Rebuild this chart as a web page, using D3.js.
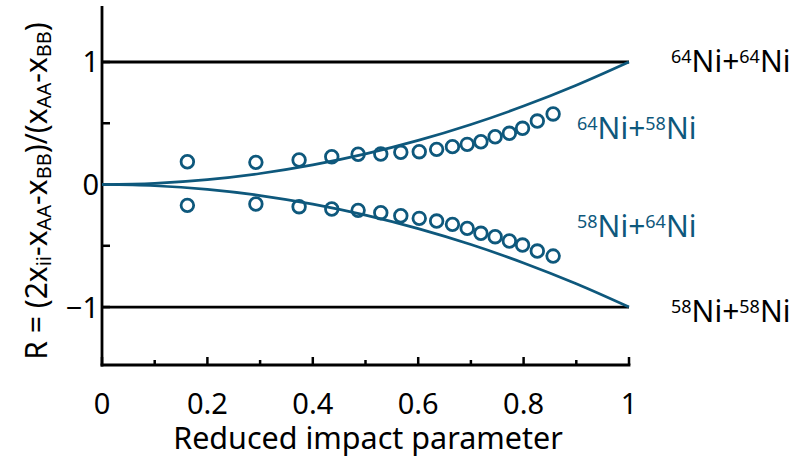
<!DOCTYPE html>
<html>
<head>
<meta charset="utf-8">
<script src="https://cdn.jsdelivr.net/npm/d3@7"></script>
<style>
  body { margin: 0; background: #fff; }
  text { font-family: "Noto Sans", "Open Sans", sans-serif; }
</style>
</head>
<body>
<div class="chart"></div>
<script>
var width = 798
var height = 459
var teal = "#0e587c"

// theory curves
const curveX = [0, 0.1, 0.2, 0.3, 0.4, 0.5, 0.6, 0.7, 0.8, 0.9, 1]
const upperCurve = [0, 0.01, 0.04, 0.09, 0.16, 0.25, 0.36, 0.49, 0.64, 0.81, 1]
const lowerCurve = [0, -0.01, -0.04, -0.09, -0.16, -0.25, -0.36, -0.49, -0.64, -0.81, -1]

// measured points
const pointX = [0.162, 0.292, 0.374, 0.436, 0.486, 0.529, 0.567, 0.602, 0.635, 0.665,
                0.693, 0.719, 0.746, 0.773, 0.798, 0.826, 0.856]
const upperR = [0.186, 0.181, 0.200, 0.227, 0.247, 0.249, 0.263, 0.268, 0.287, 0.309,
                0.328, 0.349, 0.390, 0.418, 0.459, 0.518, 0.576]
const lowerR = [-0.170, -0.159, -0.181, -0.200, -0.211, -0.230, -0.255, -0.276, -0.298, -0.325,
                -0.358, -0.398, -0.426, -0.461, -0.494, -0.543, -0.584]

// limit lines y = 1 and y = -1
const limitY = [1, -1]

const xTickLabels = [0, 0.2, 0.4, 0.6, 0.8, 1]
const xMinorTicks = [0.1, 0.3, 0.5, 0.7, 0.9]
const yTickLabels = [1, 0, -1]
const yMinorTicks = [0.5, -0.5]

const labels = [
  {a: "64", b: "64", y: 1, color: "#000", x: 671, dy: 10},
  {a: "64", b: "58", y: 0.45, color: teal, x: 577, dy: 10},
  {a: "58", b: "64", y: -0.35, color: teal, x: 577, dy: 10},
  {a: "58", b: "58", y: -1, color: "#000", x: 671, dy: 15}
]

var x = d3.scaleLinear().domain([0, 1]).range([102, 629])
var y = d3.scaleLinear().domain([-1.473, 1.457]).range([365, 6])

var svg = d3.select(".chart")
  .append("svg")
  .attr("width", width)
  .attr("height", height)

// spines
svg.append("line")
  .attr("x1", x(0)).attr("x2", x(0))
  .attr("y1", y.range()[1]).attr("y2", y.range()[0] + 1.4)
  .attr("stroke", "#000").attr("stroke-width", 2.8)
svg.append("line")
  .attr("x1", x(0) - 1.4).attr("x2", x(1) + 1.4)
  .attr("y1", y.range()[0]).attr("y2", y.range()[0])
  .attr("stroke", "#000").attr("stroke-width", 2.8)

// x ticks, inward
svg.selectAll(".xmaj")
  .data(xTickLabels)
  .enter()
  .append("line")
  .attr("x1", d => x(d)).attr("x2", d => x(d))
  .attr("y1", y.range()[0]).attr("y2", y.range()[0] - 8)
  .attr("stroke", "#000").attr("stroke-width", 2.5)
svg.selectAll(".xmin")
  .data(xMinorTicks)
  .enter()
  .append("line")
  .attr("x1", d => x(d)).attr("x2", d => x(d))
  .attr("y1", y.range()[0]).attr("y2", y.range()[0] - 5)
  .attr("stroke", "#000").attr("stroke-width", 2.5)
svg.selectAll(".xlab")
  .data(xTickLabels)
  .enter()
  .append("text")
  .attr("x", d => x(d))
  .attr("y", 414)
  .attr("text-anchor", "middle")
  .attr("font-size", 29)
  .text(d => d)

// y ticks
svg.selectAll(".ymin")
  .data(yMinorTicks.concat(yTickLabels))
  .enter()
  .append("line")
  .attr("x1", x(0)).attr("x2", x(0) + 8)
  .attr("y1", d => y(d)).attr("y2", d => y(d))
  .attr("stroke", "#000").attr("stroke-width", 2.5)
svg.selectAll(".ylab")
  .data(yTickLabels)
  .enter()
  .append("text")
  .attr("x", 99)
  .attr("y", d => y(d) + 10.5)
  .attr("text-anchor", "end")
  .attr("font-size", 29)
  .text(d => d < 0 ? "\u2212" + Math.abs(d) : d)

// limit lines
svg.selectAll(".limit")
  .data(limitY)
  .enter()
  .append("line")
  .attr("x1", x(0)).attr("x2", x(1))
  .attr("y1", d => y(d)).attr("y2", d => y(d))
  .attr("stroke", "#000").attr("stroke-width", 2.8)

// curves
var line = d3.line()
  .x((d, i) => x(curveX[i]))
  .y(d => y(d))
  .curve(d3.curveMonotoneX)
;[upperCurve, lowerCurve].forEach(function(c){
  svg.append("path")
    .attr("d", line(c))
    .attr("fill", "none")
    .attr("stroke", teal)
    .attr("stroke-width", 2.7)
})

// points
;[upperR, lowerR].forEach(function(s){
  svg.append("g").selectAll("circle")
    .data(s)
    .enter()
    .append("circle")
    .attr("cx", (d, i) => x(pointX[i]))
    .attr("cy", d => y(d))
    .attr("r", 6.3)
    .attr("fill", "none")
    .attr("stroke", teal)
    .attr("stroke-width", 2.8)
})

// reaction labels
labels.forEach(function(l){
  var t = svg.append("text")
    .attr("x", l.x)
    .attr("y", y(l.y) + l.dy)
    .attr("font-size", 30)
    .attr("fill", l.color)
  t.append("tspan").attr("font-size", 18).attr("dy", -9).text(l.a)
  t.append("tspan").attr("dy", 9).text("Ni+")
  t.append("tspan").attr("font-size", 18).attr("dy", -9).text(l.b)
  t.append("tspan").attr("dy", 9).text("Ni")
})

// axis titles
svg.append("text")
  .attr("x", 368)
  .attr("y", 449)
  .attr("text-anchor", "middle")
  .attr("font-size", 30.5)
  .text("Reduced impact parameter")

var yt = svg.append("text")
  .attr("transform", "translate(47," + 191 + ") rotate(-90)")
  .attr("text-anchor", "middle")
  .attr("font-size", 30)
var parts = [["R = (2x", 0], ["ii", 1], ["-x", 0], ["AA", 1], ["-x", 0], ["BB", 1],
             [")/(x", 0], ["AA", 1], ["-x", 0], ["BB", 1], [")", 0]]
var prev = 0
parts.forEach(function(p){
  var shift = p[1] ? 4 : 0
  yt.append("tspan")
    .attr("dy", shift - prev)
    .attr("font-size", p[1] ? 20 : 30)
    .text(p[0])
  prev = shift
})
</script>
</body>
</html>
